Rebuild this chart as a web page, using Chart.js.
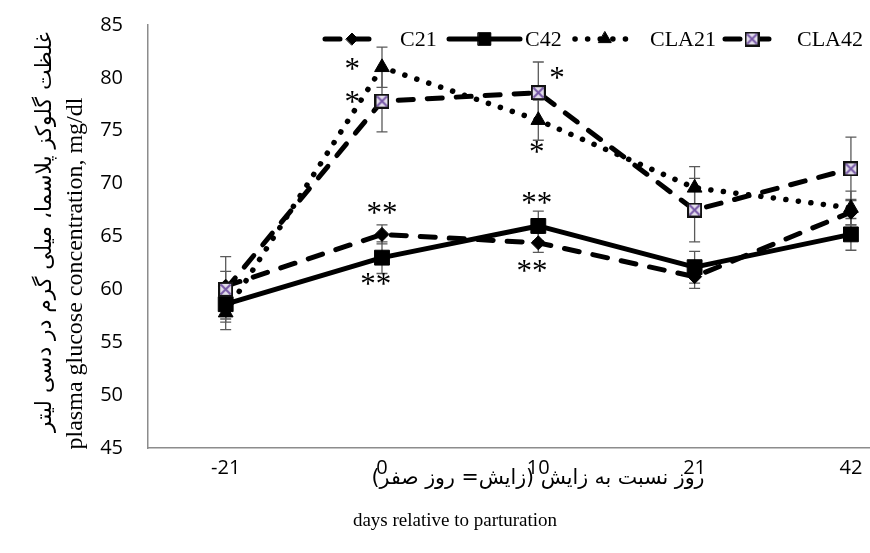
<!DOCTYPE html>
<html><head><meta charset="utf-8">
<script src="https://cdn.jsdelivr.net/npm/chart.js@4.4.1/dist/chart.umd.min.js"></script>
<style>html,body{margin:0;padding:0;background:#fff;overflow:hidden}#wrap{width:870px;height:553px;position:relative}</style>
</head><body><div id="wrap"><canvas id="c" width="870" height="553"></canvas></div>
<script>
// ---------- data ----------
const categories = ['-21', '0', '10', '21', '42'];
const seriesNames = ['C21', 'C42', 'CLA21', 'CLA42'];
const c21 = [60.3, 65.2, 64.4, 61.2, 67.3];
const c21Err = [1.4, 0.9, 0.9, 1.1, 1.2];
const c42 = [58.6, 63.0, 66.0, 62.1, 65.2];
const c42Err = [1.4, 1.5, 1.4, 1.5, 1.5];
const cla21 = [57.8, 81.0, 76.0, 69.6, 67.7];
const cla21Err = [1.6, 1.9, 1.9, 2.0, 1.6];
const cla42 = [60.0, 77.8, 78.6, 67.5, 71.4];
const cla42Err = [3.1, 2.9, 2.9, 3.0, 3.0];
const yMin = 45, yMax = 85, yStep = 5;
// significance marks: text, position on category index axis, value
const starText = ['*', '*', '**', '**', '*', '*', '**', '**'];
const starX = [0.81, 0.81, 1.0, 0.96, 2.12, 1.99, 1.99, 1.96];
const starY = [81.3, 78.2, 67.7, 61.0, 80.5, 73.45, 68.6, 62.2];
const yTitleEn = 'plasma glucose concentration, mg/dl';
const yTitleFa = 'غلظت گلوکز پلاسما، میلی گرم در دسی لیتر';
const xTitleEn = 'days relative to parturation';
const xTitleFa = 'روز نسبت به زایش (زایش= روز صفر)';

// ---------- helpers ----------
const toXY = arr => arr.map((v, i) => ({ x: i, y: v }));
function makeCrossBox(size) {
  const cv = document.createElement('canvas');
  cv.width = size; cv.height = size;
  const g = cv.getContext('2d');
  g.fillStyle = '#111'; g.fillRect(0, 0, size, size);
  g.fillStyle = '#e4dfec'; g.fillRect(2, 2, size - 4, size - 4);
  g.strokeStyle = '#7657a6'; g.lineWidth = 2;
  g.beginPath();
  g.moveTo(2.5, 2.5); g.lineTo(size - 2.5, size - 2.5);
  g.moveTo(size - 2.5, 2.5); g.lineTo(2.5, size - 2.5);
  g.stroke();
  return cv;
}
const crossBox = makeCrossBox(15);
const SERIF = '"Liberation Serif", "Times New Roman", "DejaVu Sans", serif';
const FA = '"DejaVu Sans", "Noto Sans", sans-serif';

const base = { fill: false, tension: 0, borderColor: '#000', backgroundColor: '#000',
  pointBorderColor: '#000', pointBackgroundColor: '#000', pointBorderWidth: 1,
  borderCapStyle: 'round', borderJoinStyle: 'round', clip: false };

const datasets = [
  Object.assign({}, base, { label: seriesNames[0], data: toXY(c21), err: c21Err, borderWidth: 5,
    borderDash: [15, 14], pointStyle: 'rectRot', pointRadius: 7, order: 3 }),
  Object.assign({}, base, { label: seriesNames[1], data: toXY(c42), err: c42Err, borderWidth: 5,
    pointStyle: 'rect', pointRadius: 10.5, order: 2 }),
  Object.assign({}, base, { label: seriesNames[2], data: toXY(cla21), err: cla21Err, borderWidth: 5.5,
    borderDash: [0.1, 12.5], pointStyle: 'triangle', pointRadius: 8.5, order: 1 }),
  Object.assign({}, base, { label: seriesNames[3], data: toXY(cla42), err: cla42Err, borderWidth: 5,
    borderDash: [15, 14], pointStyle: crossBox, pointRadius: 8, order: 0 })
];

// ---------- plugins ----------
const errorBars = {
  id: 'errorBars',
  beforeDatasetsDraw(chart) {
    const ctx = chart.ctx, xs = chart.scales.x, ys = chart.scales.y;
    ctx.save();
    ctx.strokeStyle = '#5a5a5a'; ctx.lineWidth = 1.3;
    chart.data.datasets.forEach(ds => {
      ds.data.forEach((p, i) => {
        const e = ds.err[i];
        const x = xs.getPixelForValue(p.x);
        const y1 = ys.getPixelForValue(p.y + e), y2 = ys.getPixelForValue(p.y - e);
        ctx.beginPath();
        ctx.moveTo(x, y1); ctx.lineTo(x, y2);
        ctx.moveTo(x - 5.5, y1); ctx.lineTo(x + 5.5, y1);
        ctx.moveTo(x - 5.5, y2); ctx.lineTo(x + 5.5, y2);
        ctx.stroke();
      });
    });
    ctx.restore();
  }
};

const stars = {
  id: 'stars',
  afterDatasetsDraw(chart) {
    const ctx = chart.ctx, xs = chart.scales.x, ys = chart.scales.y;
    ctx.save();
    ctx.fillStyle = '#000';
    ctx.font = '31px ' + SERIF;
    ctx.textAlign = 'center';
    ctx.textBaseline = 'alphabetic';
    starText.forEach((t, i) => {
      const m = ctx.measureText(t);
      const off = (m.actualBoundingBoxAscent - m.actualBoundingBoxDescent) / 2;
      ctx.fillText(t, xs.getPixelForValue(starX[i]), ys.getPixelForValue(starY[i]) + off);
    });
    ctx.restore();
  }
};

const legendLayout = { y: 39, items: [
  { s0: 322, s1: 382, tx: 400 },
  { s0: 446, s1: 523, tx: 525 },
  { s0: 572, s1: 638, tx: 650 },
  { s0: 722, s1: 782, tx: 797 }
]};
const customLegend = {
  id: 'customLegend',
  afterDraw(chart) {
    const ctx = chart.ctx;
    const y = legendLayout.y;
    chart.data.datasets.forEach((ds, i) => {
      const L = legendLayout.items[i];
      ctx.save();
      ctx.strokeStyle = ds.borderColor; ctx.lineWidth = ds.borderWidth;
      ctx.lineCap = 'round';
      ctx.setLineDash(ds.borderDash || []);
      ctx.beginPath(); ctx.moveTo(L.s0 + 3, y); ctx.lineTo(L.s1 - 3, y); ctx.stroke();
      ctx.setLineDash([]);
      ctx.fillStyle = '#000'; ctx.strokeStyle = '#000'; ctx.lineWidth = 1;
      Chart.helpers.drawPoint(ctx, { pointStyle: ds.pointStyle, radius: ds.pointRadius * 0.85, borderWidth: 1, rotation: 0 },
        (L.s0 + L.s1) / 2, y);
      ctx.fillStyle = '#000';
      ctx.font = '22px ' + SERIF;
      ctx.textAlign = 'left'; ctx.textBaseline = 'middle';
      ctx.fillText(ds.label, L.tx, y + 1);
      ctx.restore();
    });
  }
};

function fitText(ctx, text, font, target, start) {
  ctx.font = start + 'px ' + font;
  const w = ctx.measureText(text).width;
  return start * target / w;
}

const titles = {
  id: 'titles',
  afterDraw(chart) {
    const ctx = chart.ctx;
    ctx.save();
    ctx.fillStyle = '#000';
    ctx.textAlign = 'center'; ctx.textBaseline = 'middle';
    // y titles
    ctx.save();
    ctx.translate(76, 273.5); ctx.rotate(-Math.PI / 2);
    ctx.font = '24px ' + SERIF;
    ctx.fillText(yTitleEn, 0, 0);
    ctx.restore();
    ctx.save();
    ctx.translate(45, 232); ctx.rotate(-Math.PI / 2);
    const fsY = fitText(ctx, yTitleFa, FA, 400, 20);
    ctx.font = fsY + 'px ' + FA;
    ctx.direction = 'rtl';
    ctx.fillText(yTitleFa, 0, 0);
    ctx.restore();
    // x titles
    ctx.font = '19px ' + SERIF;
    ctx.fillText(xTitleEn, 455, 521);
    const fsX = fitText(ctx, xTitleFa, FA, 333, 18);
    ctx.font = fsX + 'px ' + FA;
    ctx.direction = 'rtl';
    ctx.fillText(xTitleFa, 538, 479);
    ctx.restore();
  }
};

// ---------- chart ----------
new Chart(document.getElementById('c'), {
  type: 'line',
  data: { datasets },
  plugins: [errorBars, stars, customLegend, titles],
  options: {
    responsive: false,
    animation: false,
    devicePixelRatio: 1,
    layout: { autoPadding: false, padding: { top: 25, right: 0, bottom: 0, left: 0 } },
    plugins: { legend: { display: false }, tooltip: { enabled: false } },
    scales: {
      x: {
        type: 'linear', min: -0.497, max: 4.122,
        afterBuildTicks: s => { s.ticks = categories.map((c, i) => ({ value: i })); },
        afterFit: s => { s.height = 105; s.paddingLeft = 0; s.paddingRight = 0; },
        grid: { display: false, drawTicks: false },
        border: { display: true, color: '#8c8c8c', width: 1.5 },
        ticks: { padding: 8, color: '#000', font: { family: '"Open Sans", sans-serif', size: 20 },
          callback: v => categories[v], maxRotation: 0, autoSkip: false }
      },
      y: {
        min: yMin, max: yMax,
        afterFit: s => { s.width = 148; s.paddingTop = 0; s.paddingBottom = 0; },
        grid: { display: false, drawTicks: false },
        border: { display: true, color: '#8c8c8c', width: 1.5 },
        ticks: { stepSize: yStep, padding: 25, color: '#000', font: { family: '"Open Sans", sans-serif', size: 20 } }
      }
    }
  }
});
</script>
</body></html>
